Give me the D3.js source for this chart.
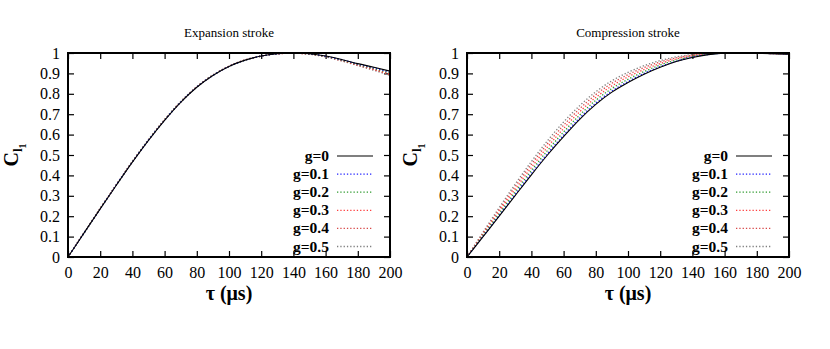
<!DOCTYPE html>
<html>
<head>
<meta charset="utf-8">
<script src="https://cdn.jsdelivr.net/npm/d3@7"></script>
<style>
  body { margin: 0; background: #fff; }
  svg { display: block; }
  svg text { font-family: "Liberation Serif", "Times New Roman", Times, serif !important; }
</style>
</head>
<body>
<svg></svg>
<script>
let width = 830;
let height = 349;

let tau = [0, 10, 20, 30, 40, 50, 60, 70, 80, 90, 100, 110, 120, 130, 140, 150, 160, 170, 180, 190, 200];
let gLabels = ['g=0', 'g=0.1', 'g=0.2', 'g=0.3', 'g=0.4', 'g=0.5'];
let xTicks = [0, 20, 40, 60, 80, 100, 120, 140, 160, 180, 200];
let yTicks = [0, 0.1, 0.2, 0.3, 0.4, 0.5, 0.6, 0.7, 0.8, 0.9, 1];
let titles = ['Expansion stroke', 'Compression stroke'];

// expansion stroke, one array per g
let expG0  = [0, 0.118, 0.236, 0.352, 0.465, 0.572, 0.670, 0.758, 0.832, 0.890, 0.934, 0.965, 0.985, 0.996, 1.000, 0.996, 0.985, 0.968, 0.948, 0.930, 0.911];
let expG01 = [0, 0.118, 0.236, 0.353, 0.466, 0.573, 0.671, 0.759, 0.833, 0.890, 0.934, 0.965, 0.985, 0.996, 1.000, 0.996, 0.984, 0.967, 0.946, 0.927, 0.907];
let expG02 = [0, 0.118, 0.237, 0.353, 0.467, 0.574, 0.672, 0.760, 0.833, 0.891, 0.934, 0.965, 0.985, 0.996, 1.000, 0.995, 0.983, 0.965, 0.944, 0.924, 0.903];
let expG03 = [0, 0.119, 0.237, 0.354, 0.467, 0.574, 0.672, 0.760, 0.834, 0.891, 0.935, 0.966, 0.985, 0.996, 0.999, 0.995, 0.983, 0.964, 0.942, 0.921, 0.898];
let expG04 = [0, 0.119, 0.238, 0.354, 0.468, 0.575, 0.673, 0.761, 0.834, 0.892, 0.935, 0.966, 0.985, 0.996, 0.999, 0.994, 0.982, 0.962, 0.940, 0.918, 0.894];
let expG05 = [0, 0.119, 0.238, 0.355, 0.469, 0.576, 0.674, 0.762, 0.835, 0.892, 0.935, 0.966, 0.985, 0.996, 0.999, 0.994, 0.981, 0.961, 0.938, 0.915, 0.890];

// compression stroke
let cmpG0  = [0, 0.100, 0.200, 0.302, 0.403, 0.500, 0.590, 0.675, 0.748, 0.808, 0.855, 0.896, 0.930, 0.958, 0.978, 0.992, 0.999, 1.000, 0.999, 0.997, 0.994];
let cmpG01 = [0, 0.102, 0.204, 0.308, 0.410, 0.507, 0.597, 0.682, 0.754, 0.814, 0.860, 0.900, 0.933, 0.960, 0.980, 0.993, 0.999, 1.000, 0.999, 0.997, 0.994];
let cmpG02 = [0, 0.107, 0.213, 0.320, 0.424, 0.522, 0.613, 0.696, 0.768, 0.826, 0.871, 0.909, 0.941, 0.965, 0.983, 0.994, 0.999, 1.000, 0.999, 0.997, 0.994];
let cmpG03 = [0, 0.112, 0.223, 0.333, 0.439, 0.539, 0.630, 0.712, 0.782, 0.839, 0.883, 0.919, 0.948, 0.971, 0.986, 0.996, 1.000, 1.000, 0.999, 0.997, 0.994];
let cmpG04 = [0, 0.117, 0.233, 0.346, 0.454, 0.555, 0.646, 0.727, 0.796, 0.852, 0.894, 0.929, 0.956, 0.976, 0.990, 0.998, 1.000, 1.000, 0.999, 0.997, 0.994];
let cmpG05 = [0, 0.122, 0.242, 0.358, 0.468, 0.570, 0.662, 0.742, 0.810, 0.864, 0.905, 0.938, 0.963, 0.981, 0.993, 0.999, 1.000, 1.000, 0.999, 0.997, 0.994];

let panels = [
    [expG0, expG01, expG02, expG03, expG04, expG05],
    [cmpG0, cmpG01, cmpG02, cmpG03, cmpG04, cmpG05]
];

let colors = ['#000000', '#2020ff', '#2e9a2e', '#ff4040', '#d84848', '#808080'];

let plotLeft = [68, 467];
let plotWidth = 322;
let plotTop = 53;
let plotBottom = 257;

let svg = d3.select('svg')
    .attr('width', width)
    .attr('height', height);

const drawPanel = (p) => {
    let x0 = plotLeft[p];
    let xScale = d3.scaleLinear().domain([0, 200]).range([x0, x0 + plotWidth]);
    let yScale = d3.scaleLinear().domain([0, 1]).range([plotBottom, plotTop]);

    let g = svg.append('g');

    // ticks on all four sides, pointing inwards
    let xBottom = d3.axisBottom(xScale).tickValues(xTicks).tickSizeInner(-6).tickSizeOuter(0).tickPadding(10);
    let xTop = d3.axisTop(xScale).tickValues(xTicks).tickSizeInner(-6).tickSizeOuter(0).tickFormat('');
    let yLeft = d3.axisLeft(yScale).tickValues(yTicks).tickSizeInner(-6).tickSizeOuter(0).tickPadding(8).tickFormat(d3.format('~g'));
    let yRight = d3.axisRight(yScale).tickValues(yTicks).tickSizeInner(-6).tickSizeOuter(0).tickFormat('');

    let axes = [
        [xBottom, `translate(0, ${plotBottom})`],
        [xTop, `translate(0, ${plotTop})`],
        [yLeft, `translate(${x0}, 0)`],
        [yRight, `translate(${x0 + plotWidth}, 0)`]
    ];
    axes.forEach(([ax, tr]) => {
        let a = g.append('g').attr('transform', tr).call(ax)
            .attr('font-size', 16);
        a.select('.domain').remove();
        a.selectAll('line').attr('stroke', '#000').attr('stroke-width', 1.2);
        a.selectAll('text').attr('fill', '#000');
    });

    // curves
    let line = d3.line()
        .x((d, i) => xScale(tau[i]))
        .y(d => yScale(d))
        .curve(d3.curveMonotoneX);

    for (let k = panels[p].length - 1; k >= 0; k--) {
        g.append('path')
            .datum(panels[p][k])
            .attr('d', line)
            .attr('fill', 'none')
            .attr('stroke', colors[k])
            .attr('stroke-width', k === 0 ? 1.1 : 1.3)
            .attr('stroke-dasharray', k === 0 ? null : '1.3,2');
    }

    // frame
    g.append('rect')
        .attr('x', x0)
        .attr('y', plotTop)
        .attr('width', plotWidth)
        .attr('height', plotBottom - plotTop)
        .attr('fill', 'none')
        .attr('stroke', '#000')
        .attr('stroke-width', 2);

    // title
    g.append('text')
        .attr('x', x0 + plotWidth / 2)
        .attr('y', 37)
        .attr('text-anchor', 'middle')
        .attr('font-size', 13)
        .text(titles[p]);

    // x label
    g.append('text')
        .attr('x', x0 + plotWidth / 2)
        .attr('y', 300)
        .attr('text-anchor', 'middle')
        .attr('font-size', 20)
        .attr('font-weight', 'bold')
        .text('τ (μs)');

    // y label C_{l_1}
    let yl = g.append('text')
        .attr('transform', `translate(${x0 - 50}, ${(plotTop + plotBottom) / 2}) rotate(-90)`)
        .attr('text-anchor', 'middle')
        .attr('font-size', 20)
        .attr('font-weight', 'bold');
    yl.append('tspan').text('C');
    yl.append('tspan').attr('font-size', 13).attr('dy', 4).text('l');
    yl.append('tspan').attr('font-size', 10).attr('dy', 4).text('1');

    // legend
    let legX = x0 + plotWidth - 53;
    gLabels.forEach((lab, k) => {
        let yy = 156 + k * 18.1;
        g.append('text')
            .attr('x', legX - 8)
            .attr('y', yy + 5)
            .attr('text-anchor', 'end')
            .attr('font-size', 15.5)
            .attr('font-weight', 'bold')
            .text(lab);
        g.append('line')
            .attr('x1', legX)
            .attr('x2', legX + 36)
            .attr('y1', yy)
            .attr('y2', yy)
            .attr('stroke', colors[k])
            .attr('stroke-width', k === 0 ? 1.1 : 1.3)
            .attr('stroke-dasharray', k === 0 ? null : '1.3,2');
    });
};

drawPanel(0);
drawPanel(1);
</script>
</body>
</html>
